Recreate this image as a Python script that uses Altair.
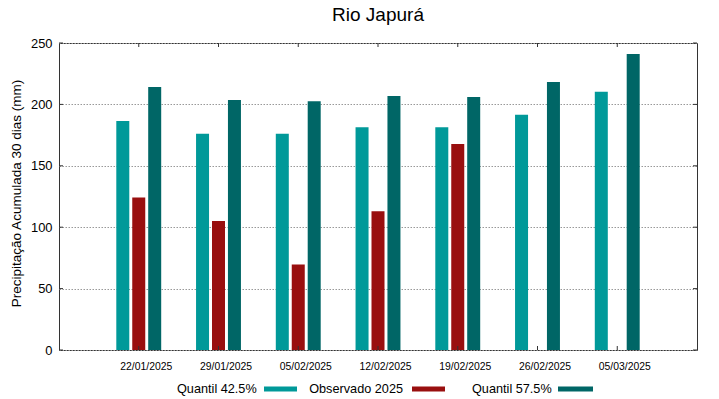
import altair as alt
import pandas as pd

# ---- data ----
title_text = "Rio Japurá"
dates = ["22/01/2025", "29/01/2025", "05/02/2025", "12/02/2025",
         "19/02/2025", "26/02/2025", "05/03/2025"]
series_names = ["Quantil 42.5%", "Observado 2025", "Quantil 57.5%"]
q425 = [186.5, 176.2, 176.2, 181.3, 181.3, 191.6, 210.4]
obs = [124.1, 105.1, 69.6, 113.0, 167.8, None, None]
q575 = [214.2, 203.6, 202.5, 206.8, 206.0, 218.3, 241.0]
y_ticks = [0, 50, 100, 150, 200, 250]
colors = ["#009999", "#990f0f", "#006666"]

FONT = "Liberation Sans"

rows = []
for i, d in enumerate(dates):
    for name, vals in zip(series_names, [q425, obs, q575]):
        if vals[i] is not None:
            rows.append({"idx": i + 1, "date": d, "series": name, "value": vals[i]})
df = pd.DataFrame(rows)
idx_df = pd.DataFrame({"idx": list(range(1, len(dates) + 1))})
yt_df = pd.DataFrame({"v": y_ticks})

label_expr = "[''," + ",".join("'%s'" % d for d in dates) + "][datum.value]"

x_scale = alt.Scale(domain=[0, len(dates) + 1], nice=False, zero=False, padding=0)
y_scale = alt.Scale(domain=[0, 250], nice=False, padding=0)

bars = alt.Chart(df).transform_calculate(
    pos="datum.idx + (datum.series == 'Quantil 42.5%' ? -0.2 : (datum.series == 'Quantil 57.5%' ? 0.2 : 0))"
).mark_bar(size=13).encode(
    x=alt.X("pos:Q", scale=x_scale,
            axis=alt.Axis(values=list(range(1, len(dates) + 1)), labelExpr=label_expr,
                          title=None, domain=False, ticks=False, grid=False,
                          labelFont=FONT, labelFontSize=10.4, labelColor="#000",
                          labelPadding=11, labelOffset=7)),
    y=alt.Y("value:Q", scale=y_scale,
            axis=alt.Axis(values=y_ticks, title="Precipitação Acumulada 30 dias (mm)",
                          domain=False, ticks=False, grid=True, gridColor="#999",
                          gridDash=[1.5, 1.5], gridWidth=1,
                          labelFont=FONT, labelFontSize=12.9, labelColor="#000",
                          labelPadding=7, titleFont=FONT, titleFontSize=13.5,
                          titleFontWeight="normal", titleColor="#000", titlePadding=7,
                          titleY=150)),
    color=alt.Color("series:N", scale=alt.Scale(domain=series_names, range=colors), legend=None),
)

tick_color = "#333"
xt_bottom = alt.Chart(idx_df).mark_rule(color=tick_color).encode(
    x=alt.X("idx:Q", scale=x_scale), y=alt.value(307), y2=alt.value(303))
xt_top = alt.Chart(idx_df).mark_rule(color=tick_color).encode(
    x=alt.X("idx:Q", scale=x_scale), y=alt.value(0), y2=alt.value(4))
yt_left = alt.Chart(yt_df).mark_rule(color=tick_color).encode(
    y=alt.Y("v:Q", scale=y_scale), x=alt.value(0), x2=alt.value(4))
yt_right = alt.Chart(yt_df).mark_rule(color=tick_color).encode(
    y=alt.Y("v:Q", scale=y_scale), x=alt.value(634), x2=alt.value(638))

title_mark = alt.Chart(pd.DataFrame({"t": [title_text]})).mark_text(
    align="center", baseline="alphabetic", font=FONT, fontSize=19, color="#000"
).encode(text="t:N", x=alt.value(319), y=alt.value(-22))

legend_layers = []
text_right = [197.7, 344, 492.7]
sample_x = [(205, 238), (353, 386), (499, 534)]
for name, col, tx, (sx1, sx2) in zip(series_names, colors, text_right, sample_x):
    one = pd.DataFrame({"label": [name]})
    legend_layers.append(
        alt.Chart(one).mark_text(align="right", baseline="middle", font=FONT,
                                 fontSize=12.7, color="#000").encode(
            text="label:N", x=alt.value(tx), y=alt.value(346)))
    legend_layers.append(
        alt.Chart(one).mark_rect(color=col).encode(
            x=alt.value(sx1), x2=alt.value(sx2), y=alt.value(343.5), y2=alt.value(348.5)))

chart = alt.layer(bars, xt_bottom, xt_top, yt_left, yt_right, title_mark, *legend_layers).properties(
    width=638, height=307,
    autosize=alt.AutoSizeParams(type="none"),
    padding={"left": 51, "top": 35, "right": 14, "bottom": 48},
).configure_view(stroke="#333", strokeWidth=1)

chart.save("out.html", embed_options={"renderer": "svg", "actions": False})
